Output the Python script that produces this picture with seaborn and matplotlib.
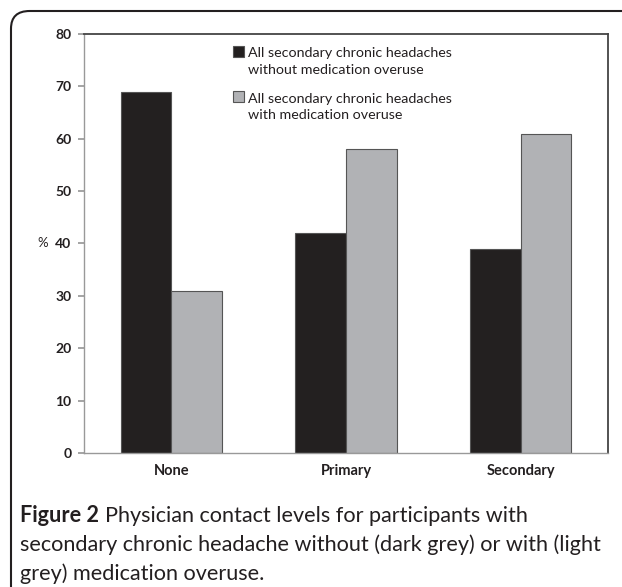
import matplotlib
matplotlib.use("Agg")
import matplotlib.pyplot as plt
from matplotlib.patches import FancyBboxPatch, Rectangle
from matplotlib.legend_handler import HandlerPatch
import pandas as pd
import seaborn as sns

# Données
categories = ["None", "Primary", "Secondary"]
without_overuse = [69, 42, 39]
with_overuse = [31, 58, 61]
series_labels = [
    "All secondary chronic headaches\nwithout medication overuse",
    "All secondary chronic headaches\nwith medication overuse",
]
yticks = [0, 10, 20, 30, 40, 50, 60, 70, 80]

df = pd.DataFrame({
    "contact": categories * 2,
    "pct": without_overuse + with_overuse,
    "groupe": [series_labels[0]] * 3 + [series_labels[1]] * 3,
})

sns.set_theme(style="white")
plt.rcParams["font.family"] = ["Lato", "DejaVu Sans"]
INK = "#231f20"

fig = plt.figure(figsize=(6.22, 5.87), dpi=100)
ax = fig.add_axes([84 / 622, 1 - 453 / 587, (608 - 84) / 622, (453 - 34) / 587])

sns.barplot(
    data=df, x="contact", y="pct", hue="groupe",
    palette=[INK, "#b1b2b5"], width=0.58,
    edgecolor="#555555", linewidth=0.8, ax=ax,
)

ax.set_ylim(0, 80)
ax.set_yticks(yticks)
ax.set_yticklabels([str(t) for t in yticks], fontsize=10, fontweight="bold", color=INK)
ax.set_xticklabels(categories, fontsize=10.5, fontweight="bold", color=INK)
ax.set_xlabel("")
ax.set_ylabel("")
ax.tick_params(axis="y", length=4, color="#999999", pad=5, left=True)
ax.tick_params(axis="x", length=0, pad=8)

# Cadre : haut et droite foncés, gauche et bas gris
for side in ["top", "right"]:
    ax.spines[side].set_color("#444444")
    ax.spines[side].set_linewidth(1.3)
for side in ["left", "bottom"]:
    ax.spines[side].set_color("#999999")
    ax.spines[side].set_linewidth(1.0)

fig.text(37 / 622, 1 - 243 / 587, "%", fontsize=9.5,
         color=INK, ha="left", va="center")


# Légende : carré aligné sur la première ligne du texte
class TopSquare(HandlerPatch):
    def __init__(self, shift, **kw):
        super().__init__(**kw)
        self.shift = shift

    def create_artists(self, legend, orig_handle, xdescent, ydescent,
                       width, height, fontsize, trans):
        r = Rectangle((-xdescent, -ydescent + self.shift * fontsize), width, height,
                      facecolor=orig_handle.get_facecolor(),
                      edgecolor="#555555", linewidth=0.8, transform=trans)
        return [r]


handles, labels = ax.get_legend_handles_labels()
leg = ax.legend(
    handles, labels, loc="upper left", bbox_to_anchor=(0.284, 0.968),
    frameon=False, fontsize=10.3, handlelength=0.75, handleheight=0.75,
    handletextpad=0.3, labelspacing=1.17, borderaxespad=0, borderpad=0,
    handler_map={h: TopSquare(0.72) for h in handles},
)
for t in leg.get_texts():
    t.set_color(INK)
    t.set_linespacing(1.45)

# Légende de la figure
cap_kw = dict(fontsize=15.6, family=["Lato", "DejaVu Sans"], color=INK, va="center")
t1 = fig.text(20 / 622, 1 - 516 / 587, "Figure 2", fontweight="bold", **cap_kw)
ax.annotate("Physician contact levels for participants with",
            xy=(1, 0.5), xycoords=t1, xytext=(4, 0), textcoords="offset points",
            annotation_clip=False, **cap_kw)
fig.text(20 / 622, 1 - 545 / 587,
         "secondary chronic headache without (dark grey) or with (light", **cap_kw)
fig.text(20 / 622, 1 - 574 / 587, "grey) medication overuse.", **cap_kw)

# Encadré arrondi
box = FancyBboxPatch((11 / 622, -0.05), 1.1, 1 - 11 / 587 + 0.05,
                     boxstyle="round,pad=0,rounding_size=0.03",
                     transform=fig.transFigure, fill=False,
                     edgecolor=INK, linewidth=1.5)
fig.patches.append(box)

plt.savefig("out.png", dpi=100)
plt.close()
